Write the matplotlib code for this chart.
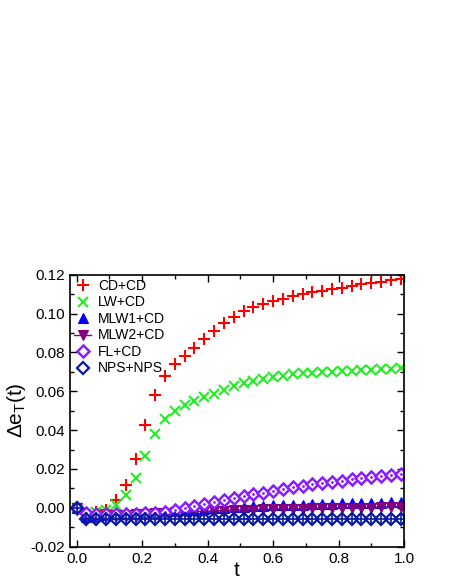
import numpy as np
import matplotlib
matplotlib.use('Agg')
import matplotlib.pyplot as plt
from matplotlib.ticker import MultipleLocator

plt.rcParams['font.family'] = ['Liberation Sans', 'DejaVu Sans']
plt.rcParams['mathtext.default'] = 'regular'

# time points (every 0.03)
t = [round(0.03 * k, 2) for k in range(34)]

cd_cd = [0.0, -0.003, -0.002, -0.001, 0.004, 0.0116, 0.0251, 0.0428, 0.0582, 0.068,
         0.0739, 0.0782, 0.0823, 0.0867, 0.0912, 0.0953, 0.0984, 0.1012, 0.1032, 0.1051,
         0.1065, 0.1075, 0.109, 0.1101, 0.1109, 0.1118, 0.1125, 0.1133, 0.1142, 0.1151,
         0.1157, 0.1164, 0.1171, 0.118]
lw_cd = [0.0, -0.003, -0.002, -0.001, 0.0015, 0.0068, 0.0155, 0.0265, 0.0378, 0.0456,
         0.05, 0.0529, 0.055, 0.0569, 0.0586, 0.0605, 0.0625, 0.0641, 0.0653, 0.0665,
         0.0673, 0.068, 0.0687, 0.0692, 0.0696, 0.0699, 0.0701, 0.0704, 0.0706, 0.0709,
         0.0711, 0.0713, 0.0715, 0.0718]
mlw1_cd = [0.0, -0.0045, -0.004, -0.0037, -0.0034, -0.003, -0.0027, -0.0024, -0.0021, -0.0018,
           -0.0015, -0.0012, -0.0009, -0.0006, -0.0003, 0.0, 0.0003, 0.0006, 0.0008, 0.001,
           0.0012, 0.0014, 0.0016, 0.0017, 0.0019, 0.002, 0.0022, 0.0023, 0.0024, 0.0025,
           0.0026, 0.0027, 0.0028, 0.0029]
mlw2_cd = [0.0, -0.0045, -0.0043, -0.004, -0.0038, -0.0035, -0.0033, -0.003, -0.0028, -0.0026,
           -0.0024, -0.0022, -0.002, -0.0018, -0.0016, -0.0014, -0.0012, -0.001, -0.0009, -0.0008,
           -0.0007, -0.0006, -0.0005, -0.0004, -0.0003, -0.0002, -0.0001, 0.0, 0.0, 0.0001,
           0.0001, 0.0002, 0.0002, 0.0003]
fl_cd = [0.0, -0.0025, -0.003, -0.003, -0.003, -0.003, -0.003, -0.0028, -0.0025, -0.002,
         -0.0013, 0.0, 0.0008, 0.002, 0.003, 0.0039, 0.0049, 0.0061, 0.0071, 0.0078,
         0.0088, 0.0095, 0.0106, 0.0114, 0.0121, 0.0126, 0.0135, 0.014, 0.0147, 0.0154,
         0.0159, 0.0164, 0.0168, 0.0174]
nps_nps = [0.0] + [-0.0058] * 10 + [-0.006] * 23

fig = plt.figure(figsize=(4.5, 5.82), dpi=100)
ax = fig.add_axes([0.1556, 0.0607, 0.7422, 0.4673])

ax.plot(t, cd_cd, ls='none', marker='+', ms=8, mew=1.5, color='#ff0000', label='CD+CD')
ax.plot(t, lw_cd, ls='none', marker='x', ms=7.5, mew=1.5, color='#22ee22', label='LW+CD')
ax.plot(t, mlw1_cd, ls='none', marker='^', ms=7.5, mew=0.8, color='#0000ff',
        mec='#0000ff', mfc='#0000ff', label='MLW1+CD')
ax.plot(t, mlw2_cd, ls='-', lw=1, marker='v', ms=7.5, mew=0.8, color='#800080',
        label='MLW2+CD')
ax.plot(t, fl_cd, ls='none', marker='D', ms=6, mew=1.8, color='#8a1cff', mfc='white',
        label='FL+CD')
ax.plot(t, fl_cd, ls='none', marker='.', ms=2, color='#8a1cff')
ax.plot(t, nps_nps, ls='none', marker='D', ms=6.5, mew=1.6, color='#0a1aa0', mfc='none',
        label='NPS+NPS')
ax.plot(t, nps_nps, ls='none', marker='+', ms=7, mew=1.2, color='#0a1aa0')

ax.set_xlim(-0.02, 1.0)
ax.set_ylim(-0.02, 0.12)
ax.xaxis.set_major_locator(MultipleLocator(0.2))
ax.xaxis.set_minor_locator(MultipleLocator(0.1))
ax.yaxis.set_major_locator(MultipleLocator(0.02))
ax.yaxis.set_minor_locator(MultipleLocator(0.01))
ax.xaxis.set_major_formatter(plt.FormatStrFormatter('%.1f'))
ax.yaxis.set_major_formatter(plt.FormatStrFormatter('%.2f'))
ax.tick_params(which='both', direction='in', top=True, right=True, labelsize=11, width=1)
ax.tick_params(which='major', length=5)
ax.tick_params(which='minor', length=3)
for s in ax.spines.values():
    s.set_linewidth(1.2)

ax.set_xlabel('t', fontsize=15, labelpad=-3)
ax.set_ylabel(r'$\Delta e_T(t)$', fontsize=15, labelpad=2)

ax.legend(loc='upper left', frameon=False, fontsize=10, handlelength=1.2,
          handletextpad=0.5, labelspacing=0.18, borderaxespad=0.0, borderpad=0.3)

fig.savefig('out.png', dpi=100)
